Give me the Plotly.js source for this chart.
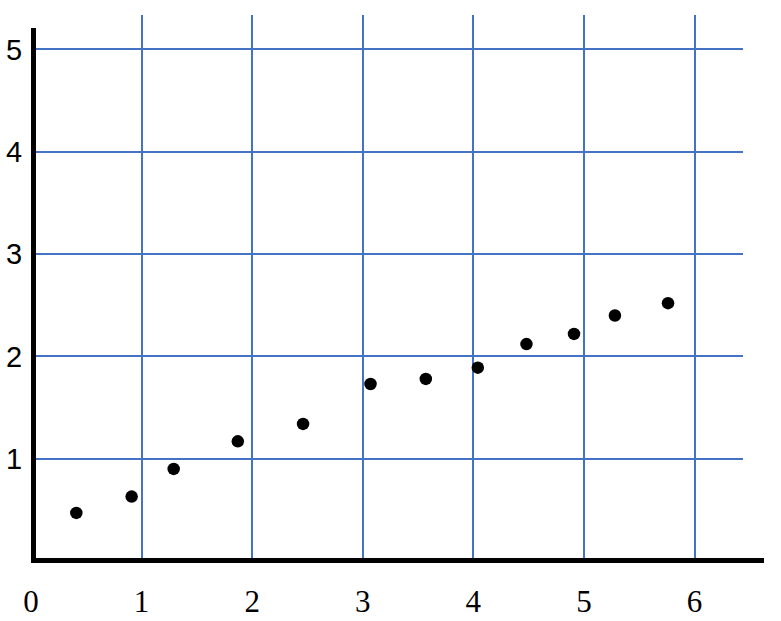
<!DOCTYPE html>
<html>
<head>
<meta charset="utf-8">
<script src="https://cdn.plot.ly/plotly-3.0.1.min.js"></script>
<style>html,body{margin:0;padding:0;background:#fff;}#chart{width:781px;height:621px;}</style>
</head>
<body>
<div id="chart"></div>
<script>
const xValues = [0.41, 0.91, 1.29, 1.87, 2.46, 3.07, 3.57, 4.04, 4.48, 4.91, 5.28, 5.76];
const yValues = [0.47, 0.63, 0.90, 1.17, 1.34, 1.73, 1.78, 1.89, 2.12, 2.22, 2.40, 2.52];
const xTicks = [0, 1, 2, 3, 4, 5, 6];
const xTickLabels = ['0', '1', '2', '3', '4', '5', '6'];
const yTicks = [1, 2, 3, 4, 5];
const yTickLabels = ['1', '2', '3', '4', '5'];

const gridColor = '#4472C4';

const trace = {
  x: xValues,
  y: yValues,
  type: 'scatter',
  mode: 'markers',
  marker: {color: '#000000', size: 12.5},
  cliponaxis: false,
  hoverinfo: 'skip'
};

const layout = {
  width: 781,
  height: 621,
  margin: {l: 31, r: 38, t: 15, b: 60, pad: 0},
  paper_bgcolor: '#ffffff',
  plot_bgcolor: '#ffffff',
  showlegend: false,
  xaxis: {
    range: [0, 6.438],
    tickmode: 'array',
    tickvals: xTicks,
    ticktext: xTickLabels,
    showgrid: true,
    gridcolor: gridColor,
    gridwidth: 2,
    zeroline: false,
    showline: false,
    ticks: 'outside',
    ticklen: 13,
    tickcolor: 'rgba(0,0,0,0)',
    tickfont: {family: '"Liberation Serif", "Times New Roman", serif', size: 31, color: '#000'},
    fixedrange: true
  },
  yaxis: {
    range: [0, 5.337],
    tickmode: 'array',
    tickvals: yTicks,
    ticktext: yTickLabels,
    showgrid: true,
    gridcolor: gridColor,
    gridwidth: 2,
    zeroline: false,
    showline: false,
    ticks: 'outside',
    ticklen: 2,
    tickcolor: 'rgba(0,0,0,0)',
    tickfont: {family: '"Liberation Sans", Arial, sans-serif', size: 29, color: '#000'},
    fixedrange: true
  },
  shapes: [
    {type: 'line', xref: 'paper', yref: 'paper', x0: 0.0035, x1: 0.0035, y0: 0, y1: 0.976,
     line: {color: '#000', width: 5}, layer: 'above'},
    {type: 'line', xref: 'paper', yref: 'paper', x0: 0.0, x1: 1.0295, y0: 0.001, y1: 0.001,
     line: {color: '#000', width: 5}, layer: 'above'}
  ]
};

Plotly.newPlot('chart', [trace], layout, {staticPlot: true, displayModeBar: false});
</script>
</body>
</html>
